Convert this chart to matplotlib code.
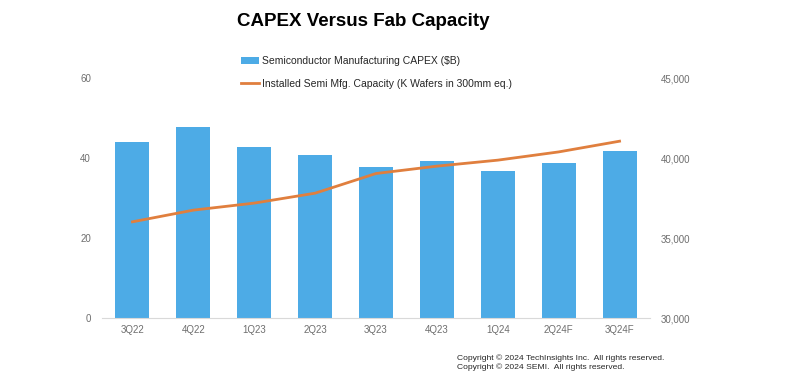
import numpy as np
import matplotlib.pyplot as plt

plt.rcParams['font.family'] = ['Liberation Sans', 'DejaVu Sans']

quarters = ["3Q22", "4Q22", "1Q23", "2Q23", "3Q23", "4Q23", "1Q24", "2Q24F", "3Q24F"]
capex = [44.1, 47.7, 42.8, 40.75, 37.7, 39.3, 36.75, 38.7, 41.9]
capacity = [36020, 36750, 37190, 37810, 39040, 39500, 39875, 40390, 41060]

bar_color = '#4DABE6'
line_color = '#E07F3E'
tick_color = '#6E6E6E'

fig = plt.figure(figsize=(8, 3.87), dpi=100)
ax = fig.add_axes([0.1275, 0.178, 0.685, 0.62])
ax2 = ax.twinx()

x = np.arange(len(quarters))
bars = ax.bar(x, capex, width=0.56, color=bar_color, zorder=2,
              label="Semiconductor Manufacturing CAPEX ($B)")
line, = ax2.plot(x, capacity, color=line_color, linewidth=2.0, zorder=3,
                 label="Installed Semi Mfg. Capacity (K Wafers in 300mm eq.)")

ax.set_xlim(-0.5, len(quarters) - 0.5)
ax.set_ylim(0, 60)
ax.set_yticks([0, 20, 40, 60])
ax2.set_ylim(30000, 45000)
ax2.set_yticks([30000, 35000, 40000, 45000])
ax2.set_yticklabels([f"{v:,}" for v in [30000, 35000, 40000, 45000]])

ax.set_xticks(x)
ax.set_xticklabels(quarters)

for a in (ax, ax2):
    for s in ('top', 'left', 'right'):
        a.spines[s].set_visible(False)
    a.tick_params(length=0, labelsize=7, colors=tick_color)
ax.spines['bottom'].set_color('#D9D9D9')
ax2.spines['bottom'].set_visible(False)
ax.tick_params(axis='y', pad=8)
ax.tick_params(axis='x', pad=5)
ax2.tick_params(axis='y', pad=8)

ax.set_zorder(ax2.get_zorder() - 1)
ax.patch.set_visible(False)

fig.text(0.454, 0.945, "CAPEX Versus Fab Capacity", ha='center', va='center',
         fontsize=13.5, fontweight='bold', color='black')

fig.legend(handles=[bars, line], loc='upper left', bbox_to_anchor=(0.290, 0.88),
           frameon=False, fontsize=7.5, handlelength=1.7, handletextpad=0.3,
           labelspacing=1.25, labelcolor='#262626')

fig.text(0.571, 0.063, "Copyright © 2024 TechInsights Inc.  All rights reserved.\n"
         "Copyright © 2024 SEMI.  All rights reserved.",
         ha='left', va='center', fontsize=6.1, color='#262626', linespacing=1.35)

fig.savefig("out.png", dpi=100, facecolor='white')
